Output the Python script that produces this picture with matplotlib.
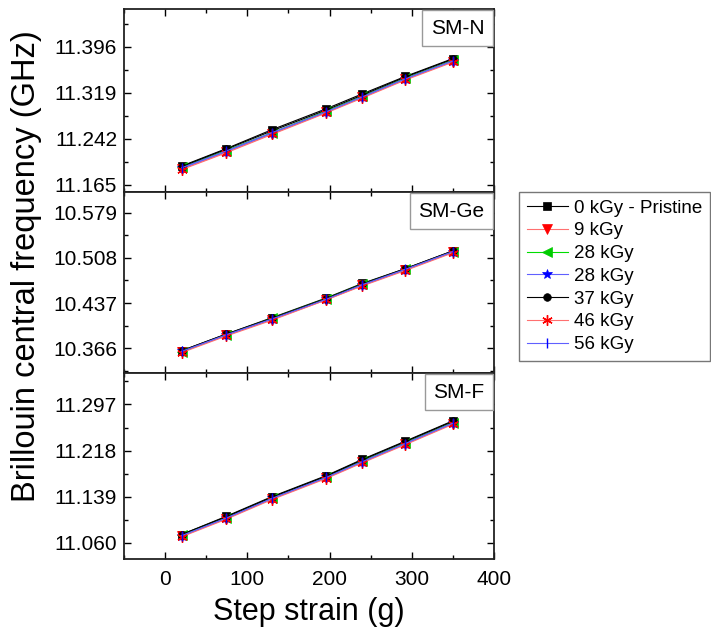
import matplotlib
matplotlib.use("Agg")
import matplotlib.pyplot as plt
import numpy as np
from matplotlib.ticker import FixedLocator, FixedFormatter, MultipleLocator

plt.rcParams['font.family'] = ['Liberation Sans', 'DejaVu Sans']

# ---------------- data ----------------
strain = [20, 74, 130, 196, 240, 292, 350]

series_labels = ["0 kGy - Pristine", "9 kGy", "28 kGy", "28 kGy", "37 kGy", "46 kGy", "56 kGy"]

smn_0 = [11.196, 11.225, 11.257, 11.292, 11.317, 11.346, 11.376]
smn_9 = [11.191, 11.219, 11.250, 11.286, 11.311, 11.341, 11.371]
smn_28a = [11.194, 11.222, 11.252, 11.288, 11.313, 11.343, 11.373]
smn_28b = [11.192, 11.220, 11.251, 11.286, 11.312, 11.342, 11.372]
smn_37 = [11.195, 11.224, 11.255, 11.290, 11.315, 11.345, 11.375]
smn_46 = [11.190, 11.218, 11.249, 11.285, 11.310, 11.340, 11.370]
smn_56 = [11.193, 11.221, 11.252, 11.287, 11.312, 11.342, 11.372]

smge_0 = [10.362, 10.388, 10.414, 10.445, 10.468, 10.491, 10.519]
smge_9 = [10.360, 10.386, 10.411, 10.442, 10.465, 10.489, 10.517]
smge_28a = [10.360, 10.387, 10.413, 10.444, 10.467, 10.490, 10.518]
smge_28b = [10.361, 10.386, 10.412, 10.443, 10.465, 10.489, 10.517]
smge_37 = [10.362, 10.388, 10.413, 10.444, 10.467, 10.491, 10.519]
smge_46 = [10.359, 10.385, 10.410, 10.442, 10.464, 10.488, 10.516]
smge_56 = [10.361, 10.387, 10.412, 10.443, 10.466, 10.490, 10.518]

smf_0 = [11.074, 11.105, 11.139, 11.175, 11.203, 11.234, 11.269]
smf_9 = [11.071, 11.101, 11.135, 11.171, 11.198, 11.229, 11.264]
smf_28a = [11.073, 11.103, 11.137, 11.173, 11.200, 11.231, 11.266]
smf_28b = [11.071, 11.102, 11.136, 11.172, 11.199, 11.230, 11.265]
smf_37 = [11.074, 11.104, 11.138, 11.174, 11.202, 11.233, 11.268]
smf_46 = [11.070, 11.100, 11.134, 11.170, 11.197, 11.228, 11.263]
smf_56 = [11.072, 11.102, 11.136, 11.172, 11.199, 11.230, 11.265]

panel_names = ["SM-N", "SM-Ge", "SM-F"]
panel_series = [
    [smn_0, smn_9, smn_28a, smn_28b, smn_37, smn_46, smn_56],
    [smge_0, smge_9, smge_28a, smge_28b, smge_37, smge_46, smge_56],
    [smf_0, smf_9, smf_28a, smf_28b, smf_37, smf_46, smf_56],
]
panel_yticks = [
    [11.165, 11.242, 11.319, 11.396],
    [10.366, 10.437, 10.508, 10.579],
    [11.060, 11.139, 11.218, 11.297],
]
panel_yticklabels = [
    ["11.165", "11.242", "11.319", "11.396"],
    ["10.366", "10.437", "10.508", "10.579"],
    ["11.060", "11.139", "11.218", "11.297"],
]
panel_ylims = [(11.1526, 11.459), (10.327, 10.6116), (11.032, 11.351)]

xticks = [0, 100, 200, 300, 400]
xticklabels = ["0", "100", "200", "300", "400"]

# ---------------- style ----------------
markers = ['s', 'v', '<', '*', 'o', (6, 2, 0), '|']
mcolors = ['black', 'red', '#00cc00', 'blue', 'black', 'red', 'blue']
lcolors = ['black', '#ff7070', '#00dd00', '#6060ff', 'black', '#ff7070', '#6060ff']
msizes = [5.5, 6.5, 6.5, 7.5, 5.5, 7.5, 7.5]

W, H = 711, 630
fig = plt.figure(figsize=(W / 100, H / 100), dpi=100)

left_px, right_px = 124, 494
bounds_px = [9, 192, 373, 559]

axes = []
handles = None
for i in range(3):
    top = bounds_px[i]
    bot = bounds_px[i + 1]
    ax = fig.add_axes([left_px / W, 1 - bot / H, (right_px - left_px) / W, (bot - top) / H])
    axes.append(ax)
    hs = []
    for j, ys in enumerate(panel_series[i]):
        h, = ax.plot(strain, ys, marker=markers[j], color=lcolors[j], lw=0.8,
                     markerfacecolor=mcolors[j], markeredgecolor=mcolors[j],
                     markersize=msizes[j], markeredgewidth=1.0 if j in (5, 6) else 0.5,
                     label=series_labels[j])
        hs.append(h)
    if handles is None:
        handles = hs
    ax.set_xlim(-50, 400)
    ax.set_ylim(*panel_ylims[i])
    ax.xaxis.set_major_locator(FixedLocator(xticks))
    ax.xaxis.set_minor_locator(MultipleLocator(50))
    if i == 2:
        ax.set_xticklabels(xticklabels)
    else:
        ax.set_xticklabels([])
    yt = panel_yticks[i]
    step = yt[1] - yt[0]
    ax.yaxis.set_major_locator(FixedLocator(yt))
    ax.yaxis.set_major_formatter(FixedFormatter(panel_yticklabels[i]))
    minor = [yt[0] - step / 2] + [v + step / 2 for v in yt]
    ax.yaxis.set_minor_locator(FixedLocator(minor))
    ax.tick_params(which='both', direction='in', top=True, right=True, labelsize=15, width=1.0)
    ax.tick_params(which='major', length=5)
    ax.tick_params(axis='y', which='major', pad=5)
    ax.tick_params(axis='x', which='major', pad=8)
    ax.tick_params(which='minor', length=3)
    for sp in ax.spines.values():
        sp.set_linewidth(1.3)
        sp.set_color('#222222')
    pad_frac = 0.4
    pad_pt = pad_frac * 15
    ax.annotate(panel_names[i], xy=(1, 1), xycoords='axes fraction',
                xytext=(-pad_pt - 1.0, -pad_pt - 1.0), textcoords='offset points',
                ha='right', va='top', fontsize=15, zorder=10,
                bbox=dict(boxstyle='square,pad=%.2f' % pad_frac, fc='white', ec='#999999', lw=1.0))

axes[2].set_xlabel("Step strain (g)", fontsize=22, labelpad=6)
fig.text(27 / W, 1 - 266 / H, "Brillouin central frequency (GHz)", rotation=90,
         ha='center', va='center', fontsize=23.5)

leg = fig.legend(handles=handles, labels=series_labels, loc='upper left',
                 bbox_to_anchor=(519 / W, 1 - 192 / H), borderaxespad=0,
                 fontsize=13.5, frameon=True, fancybox=False, edgecolor='#555555',
                 handlelength=2.2, labelspacing=0.3, borderpad=0.4, handletextpad=0.35)
leg.get_frame().set_linewidth(1.0)

fig.savefig("out.png", dpi=100)
